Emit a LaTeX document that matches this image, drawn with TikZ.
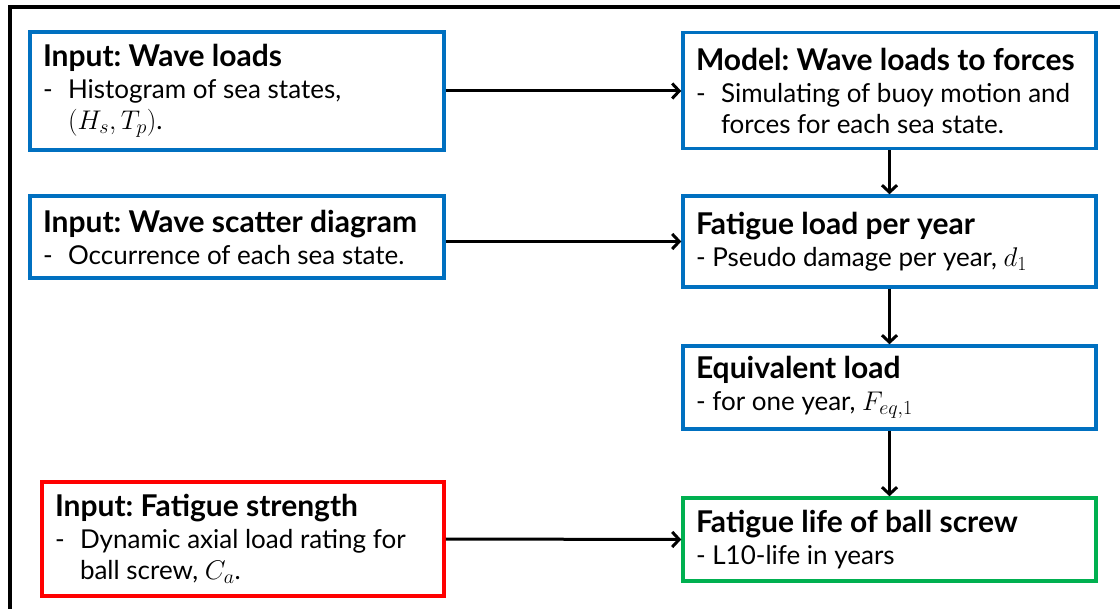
\RequirePackage{fix-cm}
\documentclass[tikz,border=0pt]{standalone}
\usepackage{fontspec}
\setmainfont{Lato}
\usetikzlibrary{arrows.meta}
\DeclareMathSizes{26}{27}{20}{15}
\definecolor{bblue}{HTML}{0070C0}
\definecolor{rred}{HTML}{FF0000}
\definecolor{ggreen}{HTML}{00B050}
\newcommand{\flowbox}[3]{\begin{minipage}{#1}\raggedright\parindent=0pt\frenchspacing
{\fontsize{30}{34}\selectfont\bfseries #2\par}\vspace{1pt}
\fontsize{26}{31}\selectfont #3\end{minipage}}
\newcommand{\dsh}{\makebox[25pt][l]{-}}
\tikzset{
  fbox/.style={draw=#1, line width=3.5pt, inner sep=0pt, fill=white},
  conn/.style={line width=3pt, -{Straight Barb[length=7pt,width=15pt,line width=3pt]}}
}
\begin{document}
\begin{tikzpicture}[x=1pt,y=-1pt]
\useasboundingbox (0,0) rectangle (1120,609);
\draw[line width=3.5pt] (10,609) -- (10,7) -- (1120,7);
\node[fbox=bblue, minimum width=414pt, minimum height=118pt] (A) at (237,91)
  {\flowbox{388pt}{Input: Wave loads}{\dsh Histogram of sea states,\par\hspace*{25pt}$(H_s, T_p)$.}};
\node[fbox=bblue, minimum width=413pt, minimum height=116pt] (B) at (889.5,90.5)
  {\flowbox{387pt}{Model: Wave loads to forces}{\dsh Simulating of buoy motion and\par\hspace*{25pt}forces for each sea state.}};
\node[fbox=bblue, minimum width=414pt, minimum height=82pt] (C) at (237,237)
  {\flowbox{388pt}{Input: Wave scatter diagram}{\dsh Occurrence of each sea state.}};
\node[fbox=bblue, minimum width=413pt, minimum height=91pt] (D) at (889.5,241.5)
  {\flowbox{387pt}{Fatigue load per year}{- Pseudo damage per year, $d_1$}};
\node[fbox=bblue, minimum width=413pt, minimum height=83pt] (E) at (889.5,387.5)
  {\flowbox{387pt}{Equivalent load}{- for one year, $F_{eq,1}$}};
\node[fbox=rred, minimum width=402pt, minimum height=114pt] (F) at (243,539)
  {\flowbox{376pt}{Input: Fatigue strength}{\dsh Dynamic axial load rating for\par\hspace*{25pt}ball screw, $C_a$.}};
\node[fbox=ggreen, minimum width=413pt, minimum height=83pt] (G) at (889.5,539.5)
  {\flowbox{387pt}{Fatigue life of ball screw}{- L10-life in years}};
\draw[conn] (A.east) -- (A.east -| B.west);
\draw[conn] (C.east |- D.west) -- (D.west);
\draw[conn] (F.east) -- (G.west);
\draw[conn] (B.south) -- (D.north);
\draw[conn] (D.south) -- (E.north);
\draw[conn] (E.south) -- (G.north);
\end{tikzpicture}
\end{document}
